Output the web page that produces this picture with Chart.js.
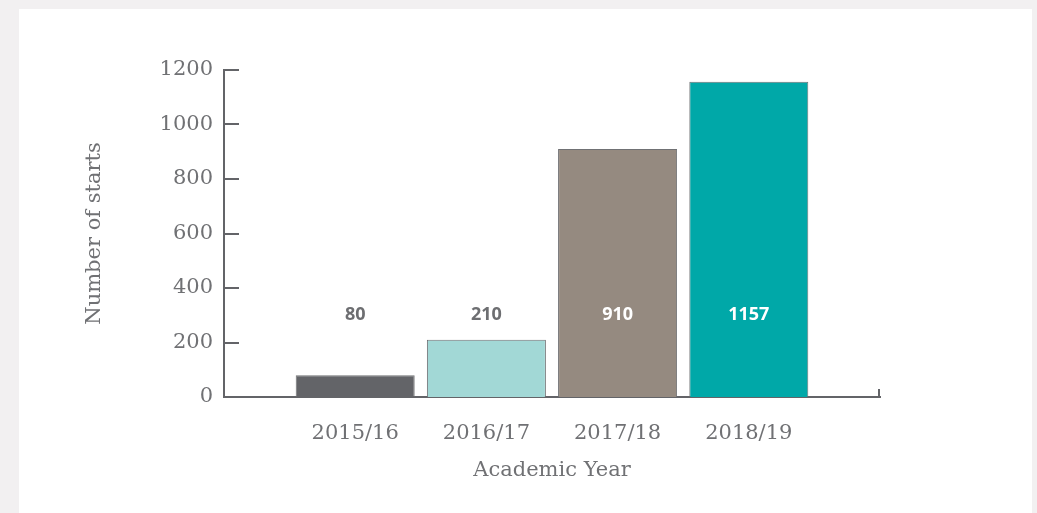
<!DOCTYPE html>
<html>
<head>
<meta charset="utf-8">
<script src="https://cdn.jsdelivr.net/npm/chart.js@4/dist/chart.umd.min.js"></script>
<style>
  html, body { margin: 0; padding: 0; background: #f2f0f1; }
  #panel { position: absolute; left: 19px; top: 9px; width: 1013px; height: 504px; background: #fff; }
  #wrap { position: absolute; left: 0; top: 0; width: 1037px; height: 513px; }
</style>
</head>
<body>
<div id="panel"></div>
<div id="wrap"><canvas id="grafico" width="1037" height="513"></canvas></div>
<script>
// datos del grafico
const years = ['2015/16', '2016/17', '2017/18', '2018/19'];
const starts = [80, 210, 910, 1157];
const yTicks = [0, 200, 400, 600, 800, 1000, 1200];

const barColors = ['#636468', '#a2d8d6', '#958a80', '#00a8a8'];
const labelColors = ['#6d6e71', '#6d6e71', '#ffffff', '#ffffff'];
const axisColor = '#636468';
const textColor = '#707174';

// ticks hacia dentro y marca final del eje x
const ejesPlugin = {
    id: 'ejes',
    afterDraw(chart) {
        const ctx = chart.ctx;
        const y = chart.scales.y;
        const x = chart.scales.x;
        ctx.save();
        ctx.strokeStyle = axisColor;
        ctx.lineWidth = 2;
        y.ticks.forEach(t => {
            const py = Math.round(y.getPixelForValue(t.value));
            ctx.beginPath();
            ctx.moveTo(y.right, py);
            ctx.lineTo(y.right + 15, py);
            ctx.stroke();
        });
        ctx.beginPath();
        ctx.moveTo(x.right - 1, x.top);
        ctx.lineTo(x.right - 1, x.top - 8);
        ctx.stroke();
        ctx.restore();
    }
};

// valores encima / dentro de las barras
const valoresPlugin = {
    id: 'valores',
    afterDatasetsDraw(chart) {
        const ctx = chart.ctx;
        const meta = chart.getDatasetMeta(0);
        const py = chart.scales.y.getPixelForValue(300);
        ctx.save();
        ctx.font = 'bold 18px "Open Sans"';
        ctx.textAlign = 'center';
        ctx.textBaseline = 'middle';
        meta.data.forEach((bar, i) => {
            ctx.fillStyle = labelColors[i];
            ctx.fillText(String(starts[i]), bar.x, py);
        });
        ctx.restore();
    }
};

var elementoEnHtml = document.getElementById('grafico').getContext('2d');

new Chart(elementoEnHtml, {
    type: 'bar',
    data: {
        datasets: [{
            data: starts.map((v, i) => ({ x: i, y: v })),
            backgroundColor: barColors,
            borderColor: '#707174',
            borderWidth: 1,
            categoryPercentage: 1,
            barPercentage: 0.907
        }]
    },
    options: {
        responsive: false,
        animation: false,
        layout: { padding: { left: 80, right: 157, top: 70, bottom: 27 } },
        plugins: {
            legend: { display: false },
            tooltip: { enabled: false }
        },
        scales: {
            x: {
                type: 'linear',
                min: -1,
                max: 4,
                offset: false,
                grid: { display: false, drawTicks: false, offset: false },
                border: { display: true, color: axisColor, width: 2 },
                ticks: {
                    stepSize: 1,
                    padding: 24,
                    color: textColor,
                    font: { family: 'DejaVu Serif', size: 21 },
                    maxRotation: 0,
                    callback: v => years[v] !== undefined ? years[v] : ''
                },
                title: {
                    display: true,
                    text: 'Academic Year',
                    color: textColor,
                    font: { family: 'DejaVu Serif', size: 21 },
                    padding: { top: 4, bottom: 3 }
                },
                afterFit: s => { s.height = 89; }
            },
            y: {
                min: 0,
                max: 1200,
                grid: { display: false, drawTicks: false },
                border: { display: true, color: axisColor, width: 2 },
                afterBuildTicks: s => { s.ticks = yTicks.map(v => ({ value: v })); },
                ticks: {
                    padding: 11,
                    color: textColor,
                    font: { family: 'DejaVu Serif', size: 21 },
                    callback: v => String(v)
                },
                title: {
                    display: true,
                    text: 'Number of starts',
                    color: textColor,
                    font: { family: 'DejaVu Serif', size: 21 },
                    padding: { top: 2, bottom: 4 }
                },
                afterFit: s => { s.width = 144; }
            }
        }
    },
    plugins: [ejesPlugin, valoresPlugin]
});
</script>
</body>
</html>
